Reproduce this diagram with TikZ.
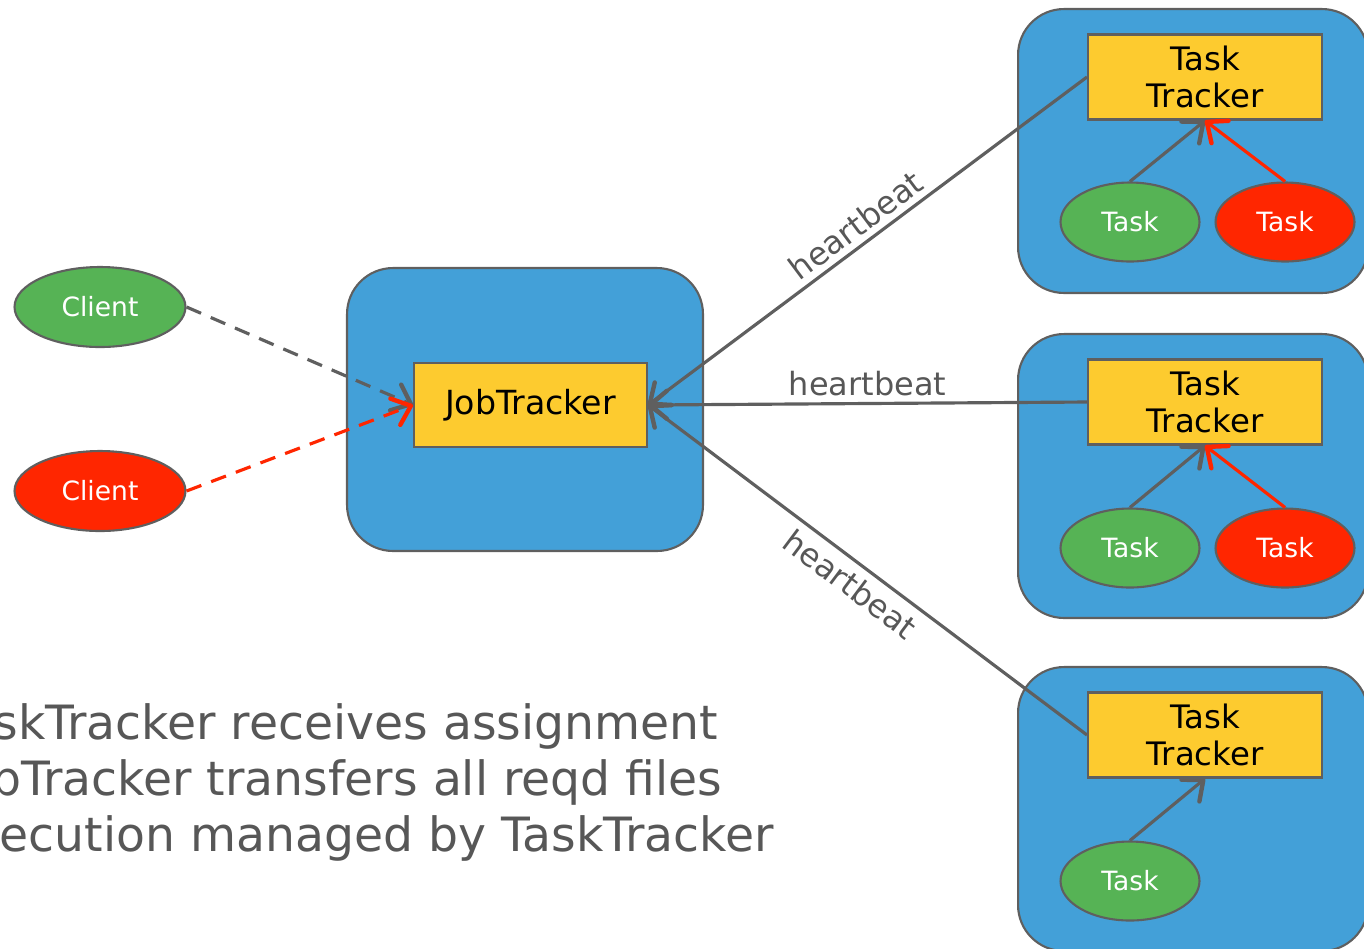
\documentclass[tikz,border=0pt]{standalone}
\usepackage{fontspec}
\setmainfont{DejaVu Sans}
\usetikzlibrary{shapes.geometric,arrows.meta}

\definecolor{boxblue}{HTML}{43A0D8}
\definecolor{ttyellow}{HTML}{FDCB2F}
\definecolor{okgreen}{HTML}{56B355}
\definecolor{failred}{HTML}{FF2600}
\definecolor{edgegray}{HTML}{5F5F5F}
\definecolor{textgray}{HTML}{575757}

\begin{document}
\begin{tikzpicture}[x=0.02cm, y=-0.02cm,
  hostbox/.style={draw=edgegray, line width=1.2pt, fill=boxblue,
    rounded corners=0.92cm, inner sep=0},
  tracker/.style={draw=edgegray, line width=1.2pt, fill=ttyellow,
    minimum width=4.68cm, minimum height=1.7cm, inner sep=0, align=center,
    font=\fontsize{18.4}{21}\selectfont},
  taskoval/.style={ellipse, draw=edgegray, line width=1.2pt,
    minimum width=2.78cm, minimum height=1.58cm, inner sep=0, text=white,
    font=\fontsize{15.1}{17}\selectfont},
  clientoval/.style={ellipse, draw=edgegray, line width=1.2pt,
    minimum width=3.42cm, minimum height=1.6cm, inner sep=0, text=white,
    font=\fontsize{15.1}{17}\selectfont},
  barb/.tip={Straight Barb[length=9.5pt, width=16pt, round, line width=2.5pt]},
  link/.style={line width=1.8pt, -barb},
  beat/.style={draw=edgegray, line width=1.8pt, barb-},
  beatlabel/.style={text=textgray, font=\fontsize{18.2}{20}\selectfont},
  notes/.style={anchor=base west, text=textgray,
    font=\fontsize{26.9}{32}\selectfont, inner sep=0},
]
\path[use as bounding box, clip] (0,0) rectangle (1364,948);

% host boxes
\node[hostbox, minimum width=7.12cm, minimum height=5.66cm] (master) at (525,409.5) {};
\node[hostbox, minimum width=7cm, minimum height=5.68cm] (host1) at (1193,151) {};
\node[hostbox, minimum width=7cm, minimum height=5.68cm] (host2) at (1193,476) {};
\node[hostbox, minimum width=7cm, minimum height=5.68cm] (host3) at (1193,809) {};

% job tracker and clients
\node[tracker, minimum width=4.66cm, minimum height=1.68cm,
      font=\fontsize{18.9}{21}\selectfont] (jt) at (530.5,405) {JobTracker};
\node[clientoval, fill=okgreen] (c1) at (100,307) {Client};
\node[clientoval, fill=failred] (c2) at (100,491) {Client};

% task trackers and their tasks
\node[tracker] (tt1) at (1205,77) {Task\\Tracker};
\node[tracker] (tt2) at (1205,402) {Task\\Tracker};
\node[tracker] (tt3) at (1205,735) {Task\\Tracker};
\node[taskoval, fill=okgreen] (t1a) at (1130,222) {Task};
\node[taskoval, fill=failred] (t1b) at (1285,222) {Task};
\node[taskoval, fill=okgreen] (t2a) at (1130,548) {Task};
\node[taskoval, fill=failred] (t2b) at (1285,548) {Task};
\node[taskoval, fill=okgreen] (t3a) at (1130,881) {Task};

% client submissions
\draw[link, draw=edgegray, dash pattern=on 9pt off 6pt] (c1.east) -- (jt.west);
\draw[link, draw=failred, dash pattern=on 9pt off 6pt] (c2.east) -- (jt.west);

% heartbeats
\draw[beat] (jt.east) -- node[beatlabel, sloped, above] {heartbeat} (tt1.west);
\draw[beat] (jt.east) -- node[beatlabel, above] {heartbeat} (tt2.west);
\draw[beat] (jt.east) -- node[beatlabel, sloped, below=1pt, pos=0.49] {heartbeat} (tt3.west);

% task status reports
\draw[link, draw=edgegray] (t1a.north) -- (tt1.south);
\draw[link, draw=failred] (t1b.north) -- (tt1.south);
\draw[link, draw=edgegray] (t2a.north) -- (tt2.south);
\draw[link, draw=failred] (t2b.north) -- (tt2.south);
\draw[link, draw=edgegray] (t3a.north) -- (tt3.south);

% notes
\node[notes] (n1) at (-57,739) {TaskTracker receives assignment};
\node[notes] (n2) at (-52,795) {JobTracker transfers all reqd files};
\node[notes] (n3) at (-57,851) {Execution managed by TaskTracker};
\end{tikzpicture}
\end{document}
